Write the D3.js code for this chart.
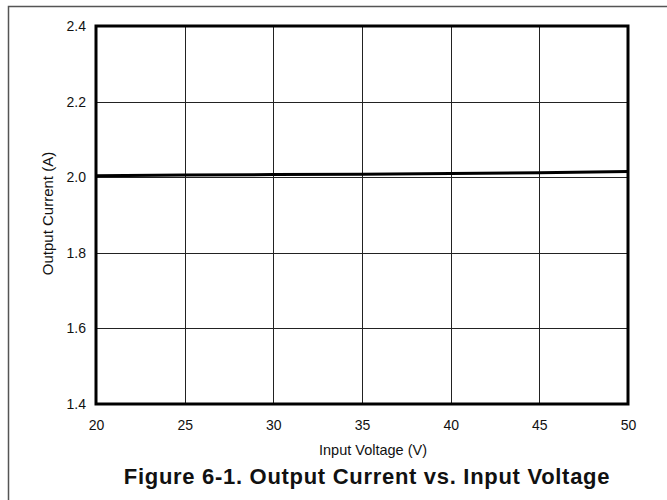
<!DOCTYPE html>
<meta charset="utf-8">
<style>
body { margin: 0; background: #fff; }
svg { display: block; font-family: "Liberation Sans", Arial, sans-serif; }
.grid line { stroke: #222; stroke-width: 1; }
.tick text { font-size: 14px; fill: #111; }
</style>
<body>
<svg width="667" height="500"></svg>
</body>
<script src="https://d3js.org/d3.v7.min.js"></script>
<script>

// data
var voltage = [20, 25, 30, 35, 40, 45, 50];
var current = [2.004, 2.006, 2.007, 2.008, 2.010, 2.012, 2.015];
var xTicks = [20, 25, 30, 35, 40, 45, 50];
var yTicks = [1.4, 1.6, 1.8, 2.0, 2.2, 2.4];

var svg = d3.select("svg"),
    margin = {top: 26, right: 39, bottom: 96, left: 96},
    width = +svg.attr("width") - margin.left - margin.right,
    height = +svg.attr("height") - margin.top - margin.bottom;

// outer frame, runs off the right and bottom edges
svg.append("rect")
    .attr("x", 8.5).attr("y", 6.5)
    .attr("width", 700).attr("height", 520)
    .attr("fill", "none")
    .attr("stroke", "#555")
    .attr("stroke-width", 1.5);

var x = d3.scaleLinear().domain([20, 50]).range([0, width]),
    y = d3.scaleLinear().domain([1.4, 2.4]).range([height, 0]);

var g = svg.append("g")
    .attr("transform", "translate(" + margin.left + "," + margin.top + ")");

// grid
var grid = g.append("g").attr("class", "grid");
grid.selectAll(".vx")
  .data(xTicks.slice(1, -1))
  .enter().append("line")
    .attr("x1", function(d) { return Math.round(x(d)) + 0.5; })
    .attr("x2", function(d) { return Math.round(x(d)) + 0.5; })
    .attr("y1", 0).attr("y2", height);
grid.selectAll(".hy")
  .data(yTicks.slice(1, -1))
  .enter().append("line")
    .attr("y1", function(d) { return Math.round(y(d)) + 0.5; })
    .attr("y2", function(d) { return Math.round(y(d)) + 0.5; })
    .attr("x1", 0).attr("x2", width);

// axes (labels only)
var xAxis = g.append("g")
    .attr("transform", "translate(0," + height + ")")
    .call(d3.axisBottom(x).tickValues(xTicks).tickSize(0).tickPadding(16).tickFormat(d3.format("d")));
xAxis.select(".domain").remove();

var yAxis = g.append("g")
    .call(d3.axisLeft(y).tickValues(yTicks).tickSize(0).tickPadding(10).tickFormat(d3.format(".1f")));
yAxis.select(".domain").remove();

// data line
var line = d3.line()
    .x(function(d, i) { return x(voltage[i]); })
    .y(function(d) { return y(d); });

g.append("path")
    .datum(current)
    .attr("fill", "none")
    .attr("stroke", "#000")
    .attr("stroke-width", 3)
    .attr("d", line);

// plot frame
g.append("rect")
    .attr("x", 0).attr("y", 0)
    .attr("width", width).attr("height", height)
    .attr("fill", "none")
    .attr("stroke", "#000")
    .attr("stroke-width", 3);

// axis titles
g.append("text")
    .attr("x", width / 2 + 11)
    .attr("y", height + 51)
    .attr("text-anchor", "middle")
    .attr("font-size", "14.5px")
    .attr("fill", "#111")
    .text("Input Voltage (V)");

g.append("text")
    .attr("transform", "rotate(-90)")
    .attr("x", -height / 2 + 1.5)
    .attr("y", -43)
    .attr("text-anchor", "middle")
    .attr("font-size", "15px")
    .attr("fill", "#111")
    .text("Output Current (A)");

svg.append("text")
    .attr("x", 367)
    .attr("y", 484)
    .attr("text-anchor", "middle")
    .attr("font-size", "22px")
    .attr("font-weight", "bold")
    .attr("letter-spacing", "0.7px")
    .attr("fill", "#111")
    .text("Figure 6-1. Output Current vs. Input Voltage");

</script>
